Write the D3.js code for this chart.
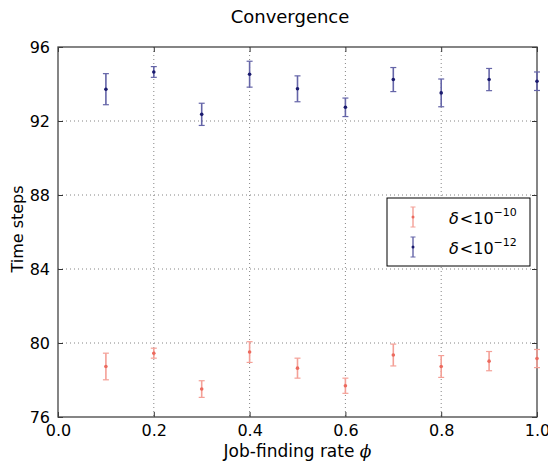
<!DOCTYPE html>
<html>
<head>
<meta charset="utf-8">
<script src="https://cdn.jsdelivr.net/npm/d3@7"></script>
<style>
  body { margin: 0; background: #fff; }
  text { font-family: "DejaVu Sans", sans-serif; fill: #000; }
</style>
</head>
<body>
<svg id="chart" width="548" height="464"></svg>
<script>
// job-finding rate values
var phi = [0.1, 0.2, 0.3, 0.4, 0.5, 0.6, 0.7, 0.8, 0.9, 1.0];
// delta < 1e-10
var meanLoose = [78.73, 79.45, 77.51, 79.51, 78.64, 77.69, 79.35, 78.73, 79.02, 79.16];
var errLoose  = [0.72, 0.27, 0.45, 0.56, 0.54, 0.41, 0.59, 0.59, 0.52, 0.49];
// delta < 1e-12
var meanTight = [93.72, 94.65, 92.36, 94.53, 93.74, 92.74, 94.24, 93.52, 94.24, 94.15];
var errTight  = [0.84, 0.29, 0.60, 0.70, 0.70, 0.50, 0.65, 0.75, 0.60, 0.50];

var xTicks = [0.0, 0.2, 0.4, 0.6, 0.8, 1.0];
var yTicks = [76, 80, 84, 88, 92, 96];
var seriesExp = ["\u221210", "\u221212"];

var svg = d3.select("#chart");
const margins = {top: 47, right: 11, bottom: 47, left: 58};
const width = 548, height = 464;

var xScale = d3.scaleLinear().domain([0, 1]).range([margins.left, width - margins.right]);
var yScale = d3.scaleLinear().domain([76, 96]).range([height - margins.bottom, margins.top]);

// grid
var grid = svg.append("g").attr("class", "grid");
grid.selectAll("line.gx").data(xTicks.slice(1, -1)).enter()
    .append("line")
    .attr("x1", d => xScale(d)).attr("x2", d => xScale(d))
    .attr("y1", yScale(96)).attr("y2", yScale(76))
    .attr("stroke", "#666").attr("stroke-width", 0.8).attr("stroke-dasharray", "1,3");
grid.selectAll("line.gy").data(yTicks.slice(1, -1)).enter()
    .append("line")
    .attr("y1", d => yScale(d)).attr("y2", d => yScale(d))
    .attr("x1", xScale(0)).attr("x2", xScale(1))
    .attr("stroke", "#666").attr("stroke-width", 0.8).attr("stroke-dasharray", "1,3");

// axes with inward ticks on all sides
var fmtX = d3.format(".1f");
var axisB = d3.axisBottom(xScale).tickValues(xTicks).tickFormat(fmtX).tickSizeInner(-5).tickSizeOuter(0).tickPadding(8);
var axisT = d3.axisTop(xScale).tickValues(xTicks).tickFormat("").tickSizeInner(-5).tickSizeOuter(0);
var axisL = d3.axisLeft(yScale).tickValues(yTicks).tickFormat(d3.format("d")).tickSizeInner(-5).tickSizeOuter(0).tickPadding(8);
var axisR = d3.axisRight(yScale).tickValues(yTicks).tickFormat("").tickSizeInner(-5).tickSizeOuter(0);

function styleAxis(g) {
    g.select(".domain").remove();
    g.selectAll(".tick line").attr("stroke", "#333");
    g.selectAll(".tick text").attr("font-size", 16).attr("font-family", "DejaVu Sans");
}
svg.append("g").attr("transform", "translate(0," + yScale(76) + ")").call(axisB).call(styleAxis);
svg.append("g").attr("transform", "translate(0," + yScale(96) + ")").call(axisT).call(styleAxis);
svg.append("g").attr("transform", "translate(" + xScale(0) + ",0)").call(axisL).call(styleAxis);
svg.append("g").attr("transform", "translate(" + xScale(1) + ",0)").call(axisR).call(styleAxis);

// frame
svg.append("rect")
    .attr("x", xScale(0)).attr("y", yScale(96))
    .attr("width", xScale(1) - xScale(0)).attr("height", yScale(76) - yScale(96))
    .attr("fill", "none").attr("stroke", "#444").attr("stroke-width", 1.3);

// error bar series
function drawErrors(mean, err, barColor, dotColor) {
    var data = phi.map((p, i) => ({x: p, y: mean[i], e: err[i]}));
    var g = svg.append("g");
    var bars = g.selectAll("g.eb").data(data).enter().append("g").attr("class", "eb");
    bars.append("line")
        .attr("x1", d => xScale(d.x)).attr("x2", d => xScale(d.x))
        .attr("y1", d => yScale(d.y - d.e)).attr("y2", d => yScale(d.y + d.e))
        .attr("stroke", barColor).attr("stroke-width", 1.6);
    [1, -1].forEach(function(s) {
        bars.append("line")
            .attr("x1", d => xScale(d.x) - 3).attr("x2", d => xScale(d.x) + 3)
            .attr("y1", d => yScale(d.y + s * d.e)).attr("y2", d => yScale(d.y + s * d.e))
            .attr("stroke", barColor).attr("stroke-width", 1.2);
    });
    bars.append("circle")
        .attr("cx", d => xScale(d.x)).attr("cy", d => yScale(d.y))
        .attr("r", 1.8).attr("fill", dotColor);
}
drawErrors(meanLoose, errLoose, "#f4a097", "#ec6a5e");
drawErrors(meanTight, errTight, "#6565a8", "#1a1a6e");

// title & labels
svg.append("text").attr("x", 290).attr("y", 23).attr("text-anchor", "middle")
    .attr("font-size", 18).text("Convergence");
svg.append("text").attr("x", (xScale(0) + xScale(1)) / 2).attr("y", 457).attr("text-anchor", "middle")
    .attr("font-size", 17)
    .call(t => {
        t.append("tspan").text("Job-finding rate ");
        t.append("tspan").attr("font-family", "DejaVu Serif").attr("font-style", "italic").text("\u03d5");
    });
svg.append("text").attr("transform", "translate(23," + ((yScale(76) + yScale(96)) / 2 - 3) + ") rotate(-90)")
    .attr("text-anchor", "middle").attr("font-size", 16).text("Time steps");

// legend
var legend = svg.append("g").attr("transform", "translate(387,198)");
legend.append("rect").attr("width", 143).attr("height", 68)
    .attr("fill", "#fff").attr("stroke", "#000").attr("stroke-width", 1);
var legendItems = [
    {exp: seriesExp[0], bar: "#f4a097", dot: "#ec6a5e"},
    {exp: seriesExp[1], bar: "#6565a8", dot: "#1a1a6e"}
];
legendItems.forEach(function(item, i) {
    var cy = 19 + i * 30;
    var g = legend.append("g").attr("transform", "translate(26," + cy + ")");
    g.append("line").attr("y1", -10).attr("y2", 10).attr("stroke", item.bar).attr("stroke-width", 1.4);
    g.append("line").attr("x1", -2.5).attr("x2", 2.5).attr("y1", -10).attr("y2", -10).attr("stroke", item.bar);
    g.append("line").attr("x1", -2.5).attr("x2", 2.5).attr("y1", 10).attr("y2", 10).attr("stroke", item.bar);
    g.append("circle").attr("r", 1.5).attr("fill", item.dot);
    var t = legend.append("text").attr("x", 62).attr("y", cy + 7)
        .attr("font-family", "DejaVu Serif").attr("font-size", 16);
    t.append("tspan").attr("font-style", "italic").text("\u03b4");
    t.append("tspan").attr("dx", 1).text("<");
    t.append("tspan").attr("dx", 0).text("10");
    t.append("tspan").attr("font-size", 11).attr("dy", -8).text(item.exp);
});
</script>
</body>
</html>
